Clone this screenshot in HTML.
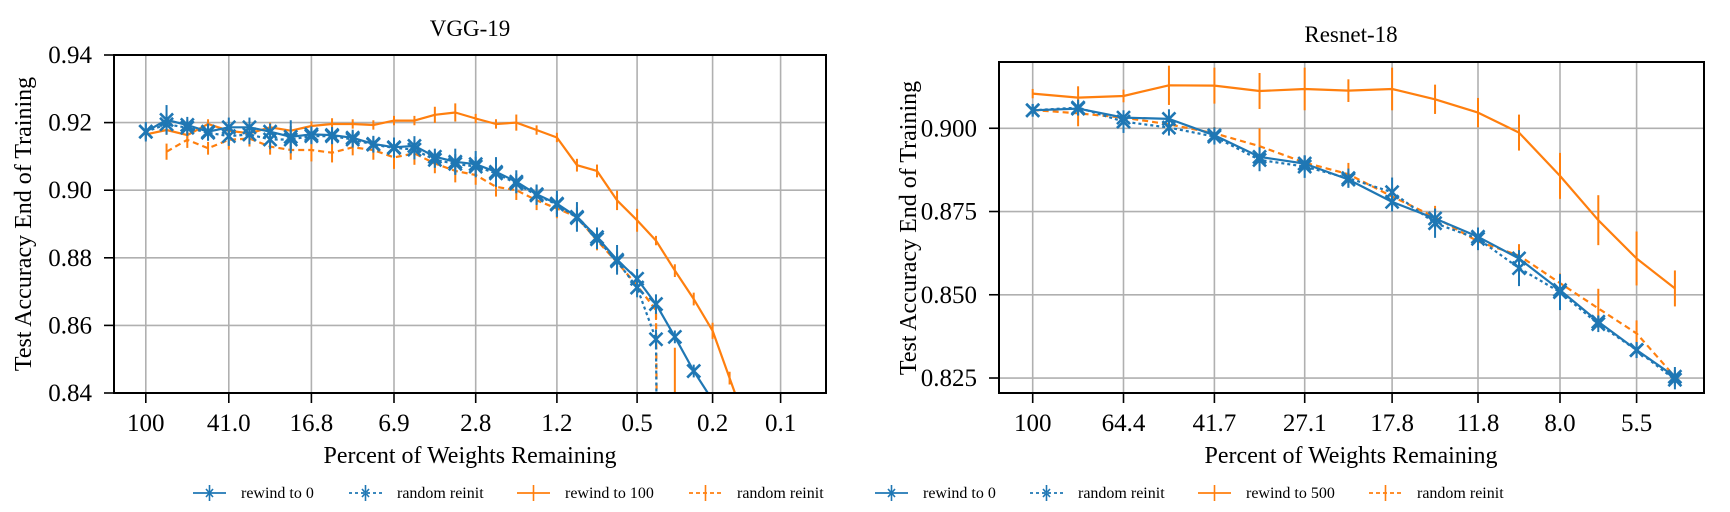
<!DOCTYPE html>
<html><head><meta charset="utf-8"><style>
html,body{margin:0;padding:0;background:#fff;width:1730px;height:512px;overflow:hidden;}
svg{display:block;font-family:"Liberation Serif","DejaVu Serif",serif;}
</style></head><body>
<svg id="fig" width="1730" height="512" viewBox="0 0 1730 512" xmlns="http://www.w3.org/2000/svg">
<defs>
<clipPath id="clipL"><rect x="114" y="55" width="712" height="338"/></clipPath>
<clipPath id="clipR"><rect x="999" y="62" width="705" height="331"/></clipPath>
</defs>
</svg>
<script>
// ---------- VGG-19 data ----------
const vggTickLabels = ["100","41.0","16.8","6.9","2.8","1.2","0.5","0.2","0.1"];
const vggYTicks = [0.84,0.86,0.88,0.90,0.92,0.94];
const vggRewind0 = [0.9173,0.9208,0.9193,0.9173,0.9186,0.9186,0.9173,0.9158,0.9165,0.9163,0.9155,0.9137,0.9127,0.9131,0.9099,0.9084,0.9077,0.9054,0.9025,0.8988,0.8960,0.8921,0.8861,0.8794,0.8738,0.8663,0.8566,0.8465,0.8378];
const vggRewind0Err = [0.002,0.0035,0.0015,0.0015,0.002,0.002,0.0015,0.004,0.0015,0.0015,0.0015,0.0015,0.002,0.002,0.0015,0.003,0.003,0.0035,0.0025,0.002,0.003,0.0035,0.002,0.0035,0.002,0.002,0.001,0.001,0.001];
const vggReinitBlue = [0.9173,0.9195,0.9185,0.9170,0.9160,0.9165,0.9150,0.9150,0.9160,0.9160,0.9150,0.9135,0.9125,0.9120,0.9090,0.9078,0.9070,0.9050,0.9020,0.8985,0.8958,0.8918,0.8855,0.8790,0.8712,0.8559,0.10];
const vggReinitBlueErr = [0.0015,0.002,0.0015,0.0015,0.002,0.002,0.002,0.002,0.0015,0.0015,0.0015,0.0015,0.002,0.002,0.0015,0.002,0.002,0.002,0.002,0.002,0.002,0.002,0.002,0.002,0.002,0.002,0];
const vggRewind100 = [0.9165,0.9178,0.9163,0.9196,0.9176,0.9168,0.9186,0.9176,0.9190,0.9196,0.9196,0.9193,0.9206,0.9206,0.9223,0.9230,0.9212,0.9196,0.9200,0.9178,0.9156,0.9074,0.9057,0.8970,0.8911,0.8851,0.8762,0.8678,0.8584,0.8444,0.8304];
const vggRewind100Err = [0.0005,0.0005,0.0005,0.0005,0.0005,0.0005,0.0005,0.0005,0.0005,0.0008,0.0005,0.0005,0.0005,0.0005,0.0015,0.0018,0.0005,0.0005,0.0015,0.0005,0.0005,0.001,0.001,0.002,0.0025,0.0005,0.001,0.001,0.0015,0.001,0.001];
const vggReinitOrange = [null,0.9114,0.9149,0.9124,0.9149,0.9153,0.9129,0.9119,0.9119,0.9111,0.9127,0.9119,0.9097,0.9109,0.9079,0.9057,0.9045,0.9010,0.9000,0.8970,0.8946,0.8921,0.8851,0.8787,0.8718,0.8645,0.10];
const vggReinitOrangeErr = [0,0.0015,0.0015,0.001,0.002,0.0015,0.0015,0.002,0.0025,0.002,0.0015,0.002,0.0025,0.0025,0.002,0.0025,0.002,0.002,0.002,0.002,0.002,0.002,0.002,0.002,0.002,0.002,0.7525];

// ---------- Resnet-18 data ----------
const resTickLabels = ["100","64.4","41.7","27.1","17.8","11.8","8.0","5.5"];
const resYTicks = [0.825,0.850,0.875,0.900];
const resRewind0 = [0.9054,0.9059,0.9032,0.9028,0.8979,0.8914,0.8894,0.8846,0.8779,0.8729,0.8674,0.8609,0.8514,0.8419,0.8334,0.8254];
const resRewind0Err = [0.001,0.001,0.001,0.002,0.0015,0.002,0.0015,0.0015,0.002,0.002,0.0015,0.0015,0.002,0.001,0.0015,0.002];
const resReinitBlue = [0.9054,0.9062,0.9020,0.9002,0.8975,0.8905,0.8885,0.8850,0.8808,0.8715,0.8668,0.8580,0.8508,0.8412,0.8334,0.8245];
const resReinitBlueErr = [0.001,0.0015,0.0025,0.0015,0.0015,0.0025,0.0025,0.002,0.0035,0.0035,0.0025,0.0045,0.0045,0.0015,0.0015,0.002];
const resRewind500 = [0.9104,0.9092,0.9097,0.9129,0.9128,0.9112,0.9118,0.9113,0.9118,0.9087,0.9047,0.8987,0.8857,0.8724,0.8609,0.8519];
const resRewind500Err = [0.0005,0.0025,0.001,0.005,0.0045,0.0045,0.0055,0.0025,0.0055,0.0035,0.0035,0.0045,0.006,0.0066,0.0072,0.0045];
const resReinitOrange = [0.9055,0.9045,0.9032,0.9012,0.8985,0.8946,0.8897,0.8862,0.8795,0.8733,0.8660,0.8618,0.8535,0.8459,0.8384,0.8254];
const resReinitOrangeErr = [0.0005,0.003,0.001,0.001,0.001,0.0045,0.001,0.0025,0.002,0.0025,0.0015,0.0025,0.002,0.005,0.003,0.001];

const BLUE="#1f77b4", ORANGE="#ff7f0e";
const svg=document.getElementById('fig');
const NS="http://www.w3.org/2000/svg";
function mk(tag,attrs,parent){const e=document.createElementNS(NS,tag);for(const k in attrs)e.setAttribute(k,attrs[k]);(parent||svg).appendChild(e);return e;}

const L={x0:114,x1:826,y0:393,y1:55,vmin:0.84,vmax:0.94,tickX:[145.8,228.8,311.4,394,475.7,556.9,637.1,712.6,780.6],step:4,clip:'clipL'};
const R={x0:999,x1:1704,y0:393,y1:62,vmin:0.8205,vmax:0.9199,tickX:[1032.7,1123.5,1214.4,1304.7,1392.1,1478,1560,1636.6],step:2,clip:'clipR'};
function xOf(ax,i){const t=i/ax.step;let k=Math.floor(t);const n=ax.tickX.length;if(k>=n-1)k=n-2;const f=t-k;return ax.tickX[k]+(ax.tickX[k+1]-ax.tickX[k])*f;}
function yOf(ax,v){return ax.y0-(v-ax.vmin)/(ax.vmax-ax.vmin)*(ax.y0-ax.y1);}

function drawAxes(ax,labels,yticks,yfmt,name){
  const g=mk('g',{});
  
  
  labels.forEach((lab,k)=>{
    const x=xOf(ax,k*ax.step);
    const gl=mk('line',{x1:x,x2:x,y1:ax.y1,y2:ax.y0,stroke:'#b0b0b0','stroke-width':1.6},g);
    
    
    mk('line',{x1:x,x2:x,y1:ax.y0,y2:ax.y0+10,stroke:'#000','stroke-width':1.6},g);
    const t=mk('text',{x:x,y:431,'font-size':25,'text-anchor':'middle'},g);
    t.textContent=lab;
    
    
  });
  yticks.forEach(v=>{
    const y=yOf(ax,v);
    const gl=mk('line',{x1:ax.x0,x2:ax.x1,y1:y,y2:y,stroke:'#b0b0b0','stroke-width':1.6},g);
    
    
    mk('line',{x1:ax.x0-10,x2:ax.x0,y1:y,y2:y,stroke:'#000','stroke-width':1.6},g);
    const t=mk('text',{x:ax.x0-22,y:y+8,'font-size':25,'text-anchor':'end'},g);
    t.textContent=yfmt(v);
    
    
  });
}
function drawSpines(ax,name){
  const r=mk('rect',{x:ax.x0,y:ax.y1,width:ax.x1-ax.x0,height:ax.y0-ax.y1,fill:'none',stroke:'#000','stroke-width':2});
  
  
}
function drawSeries(ax,vals,errs,color,dash,marker,name){
  const g=mk('g',{'clip-path':'url(#'+ax.clip+')'});
  
  
  let d='';let started=false;
  vals.forEach((v,i)=>{if(v===null)return;const x=xOf(ax,i),y=yOf(ax,v);d+=(started?'L':'M')+x.toFixed(1)+' '+y.toFixed(1)+' ';started=true;});
  const p=mk('path',{d:d,fill:'none',stroke:color,'stroke-width':2.2,'stroke-linejoin':'round'},g);
  if(dash)p.setAttribute('stroke-dasharray',dash);
  
  
  vals.forEach((v,i)=>{
    if(v===null)return;
    const x=xOf(ax,i),y=yOf(ax,v),e=errs[i]||0;
    const eb=mk('line',{x1:x,x2:x,y1:yOf(ax,v+e)-3,y2:yOf(ax,v-e)+3,stroke:color,'stroke-width':2},g);
    
    
    if(marker){
      const s=6.5;
      const m=mk('path',{d:`M${x-s} ${y-s}L${x+s} ${y+s}M${x-s} ${y+s}L${x+s} ${y-s}`,stroke:color,'stroke-width':2.6,fill:'none'},g);
      
      
    }
  });
}

drawAxes(L,vggTickLabels,vggYTicks,v=>v.toFixed(2),'vgg19');
drawSeries(L,vggReinitOrange,vggReinitOrangeErr,ORANGE,'6 4',false,'vgg-random-reinit-orange');
drawSeries(L,vggRewind100,vggRewind100Err,ORANGE,null,false,'vgg-rewind-to-100');
drawSeries(L,vggReinitBlue,vggReinitBlueErr,BLUE,'3 3',true,'vgg-random-reinit-blue');
drawSeries(L,vggRewind0,vggRewind0Err,BLUE,null,true,'vgg-rewind-to-0');
drawSpines(L,'vgg19');
drawAxes(R,resTickLabels,resYTicks,v=>v.toFixed(3),'resnet18');
drawSeries(R,resReinitOrange,resReinitOrangeErr,ORANGE,'6 4',false,'resnet-random-reinit-orange');
drawSeries(R,resRewind500,resRewind500Err,ORANGE,null,false,'resnet-rewind-to-500');
drawSeries(R,resReinitBlue,resReinitBlueErr,BLUE,'3 3',true,'resnet-random-reinit-blue');
drawSeries(R,resRewind0,resRewind0Err,BLUE,null,true,'resnet-rewind-to-0');
drawSpines(R,'resnet18');

function txt(x,y,s,str,name,extra){const t=mk('text',Object.assign({x:x,y:y,'font-size':s,'text-anchor':'middle'},extra||{}));t.textContent=str;return t;}
txt(470,36,23,'VGG-19','vgg19-title');
txt(1351,42,23,'Resnet-18','resnet18-title');
txt(470,463,24,'Percent of Weights Remaining','vgg19-x-axis-title');
txt(1351,463,24,'Percent of Weights Remaining','resnet18-x-axis-title');
txt(0,0,24,'Test Accuracy End of Training','vgg19-y-axis-title',{transform:'translate(31,224) rotate(-90)'});
txt(0,0,24,'Test Accuracy End of Training','resnet18-y-axis-title',{transform:'translate(916,228) rotate(-90)'});

const legendLabels=["rewind to 0","random reinit","rewind to 100","random reinit","rewind to 0","random reinit","rewind to 500","random reinit"];
const legendX=[193,349,517,689,875,1030,1198,1369];
const legendColor=[BLUE,BLUE,ORANGE,ORANGE,BLUE,BLUE,ORANGE,ORANGE];
const legendDash=[null,'3 3',null,'4 3',null,'3 3',null,'4 3'];
legendLabels.forEach((lab,k)=>{
  const g=mk('g',{});
  
  
  const x=legendX[k],y=493,c=legendColor[k];
  const ln=mk('line',{x1:x,x2:x+33,y1:y,y2:y,stroke:c,'stroke-width':1.8},g);
  if(legendDash[k])ln.setAttribute('stroke-dasharray',legendDash[k]);
  mk('line',{x1:x+16.5,x2:x+16.5,y1:y-8,y2:y+8,stroke:c,'stroke-width':1.6},g);
  if(c===BLUE)mk('path',{d:`M${x+13} ${y-4}L${x+20} ${y+4}M${x+13} ${y+4}L${x+20} ${y-4}`,stroke:c,'stroke-width':1.6},g);
  const t=mk('text',{x:x+48,y:y+5,'font-size':16},g);
  t.textContent=lab;
});
</script>
</body></html>
